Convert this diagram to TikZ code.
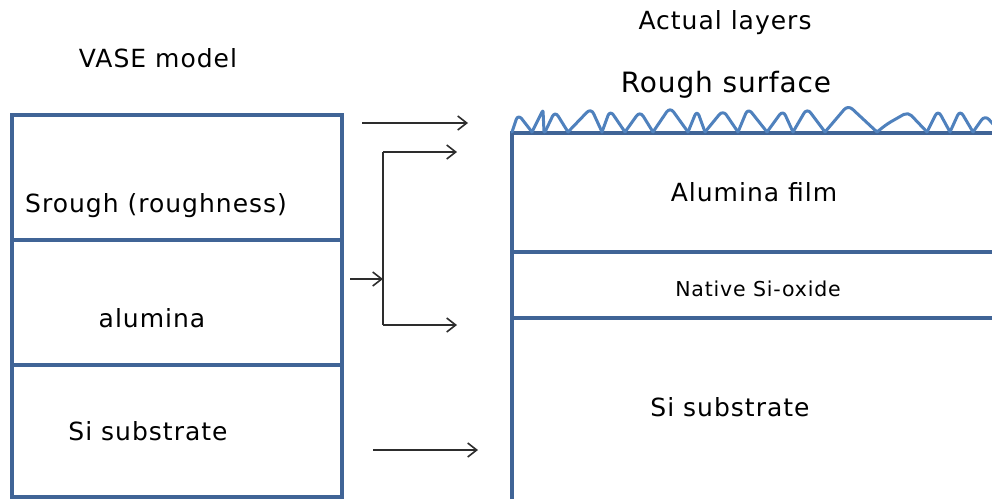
\documentclass[tikz,border=0pt]{standalone}
\usepackage{fontspec}
\setmainfont{DejaVu Sans}
\usetikzlibrary{arrows.meta}
\definecolor{boxblue}{RGB}{64,100,150}
\definecolor{roughblue}{RGB}{79,129,189}
\definecolor{arrowgray}{RGB}{45,45,45}
\tikzset{
  layerline/.style={draw=boxblue,line width=3.6pt},
  roughline/.style={draw=roughblue,line width=3pt,line join=round,line cap=round},
  conn/.style={draw=arrowgray,line width=1.6pt,-{Straight Barb[length=9pt,width=14pt,line width=1.6pt]}},
  plain/.style={draw=arrowgray,line width=1.6pt},
  lbl/.style={inner sep=0pt,font=\fontsize{25}{28}\selectfont\addfontfeature{LetterSpace=4}},
  small/.style={inner sep=0pt,font=\fontsize{20.5}{24}\selectfont\addfontfeature{LetterSpace=4}},
  big/.style={inner sep=0pt,font=\fontsize{28}{31}\selectfont\addfontfeature{LetterSpace=3}}
}
\begin{document}
\begin{tikzpicture}[x=1pt,y=-1pt]
\useasboundingbox[fill=white] (0,0) rectangle (992,499);
% left model
\draw[layerline] (12,115) rectangle (342,497);
\draw[layerline] (12,240) -- (342,240);
\draw[layerline] (12,365) -- (342,365);
\node[lbl,anchor=base] (vase) at (158,67) {VASE model};
\node[lbl,anchor=base west] (srough) at (25,212) {Srough (roughness)};
\node[lbl,anchor=base] (alu) at (152,327) {alumina};
\node[lbl,anchor=base] (sil) at (148,440) {Si substrate};
% right actual layers
\draw[layerline] (512,499) -- (512,133) -- (992,133);
\draw[layerline] (512,252) -- (992,252);
\draw[layerline] (512,318) -- (992,318);
% rough surface bumps: start x / peak x / end x / peak y
\foreach \a/\p/\b/\h in {512/518/532/114, 545/555/568/111, 568/591/602/108,
  602/610/625/110, 625/640/653/111, 653/670/688/107, 688/697/705/110,
  705/723/738/110, 738/748/767/108, 767/783/793/110, 793/807/825/108,
  825/848/877/105, 927/938/950/110, 950/960/973/110, 973/985/1000/115}
  \draw[roughline,rounded corners=6pt] (\a,132) -- (\p,\h) -- (\b,132);
\draw[roughline,rounded corners=2pt] (532,132) -- (543,110) -- (544,132);
\draw[roughline,rounded corners=5pt] (877,132) -- (887,124) -- (908,112) -- (927,132);
\node[lbl,anchor=base] (actual) at (725,29) {Actual layers};
\node[big,anchor=base] (roughs) at (726,92) {Rough surface};
\node[lbl,anchor=base] (film) at (754,201) {Alumina film};
\node[small,anchor=base] (oxide) at (758,296) {Native Si-oxide};
\node[lbl,anchor=base] (sir) at (730,416) {Si substrate};
% connectors
\coordinate (a1s) at (362,123); \coordinate (a1e) at (468,123);
\coordinate (bin) at (350,279); \coordinate (bmid) at (383,279);
\coordinate (btop) at (383,152); \coordinate (bbot) at (383,325);
\coordinate (bte) at (457,152); \coordinate (bbe) at (457,325);
\coordinate (a3s) at (373,450); \coordinate (a3e) at (478,450);
\draw[conn] (a1s) -- (a1e);
\draw[conn] (bin) -- (bmid);
\draw[plain] (btop) -- (bbot);
\draw[conn] (btop) -- (bte);
\draw[conn] (bbot) -- (bbe);
\draw[conn] (a3s) -- (a3e);
\end{tikzpicture}
\end{document}
